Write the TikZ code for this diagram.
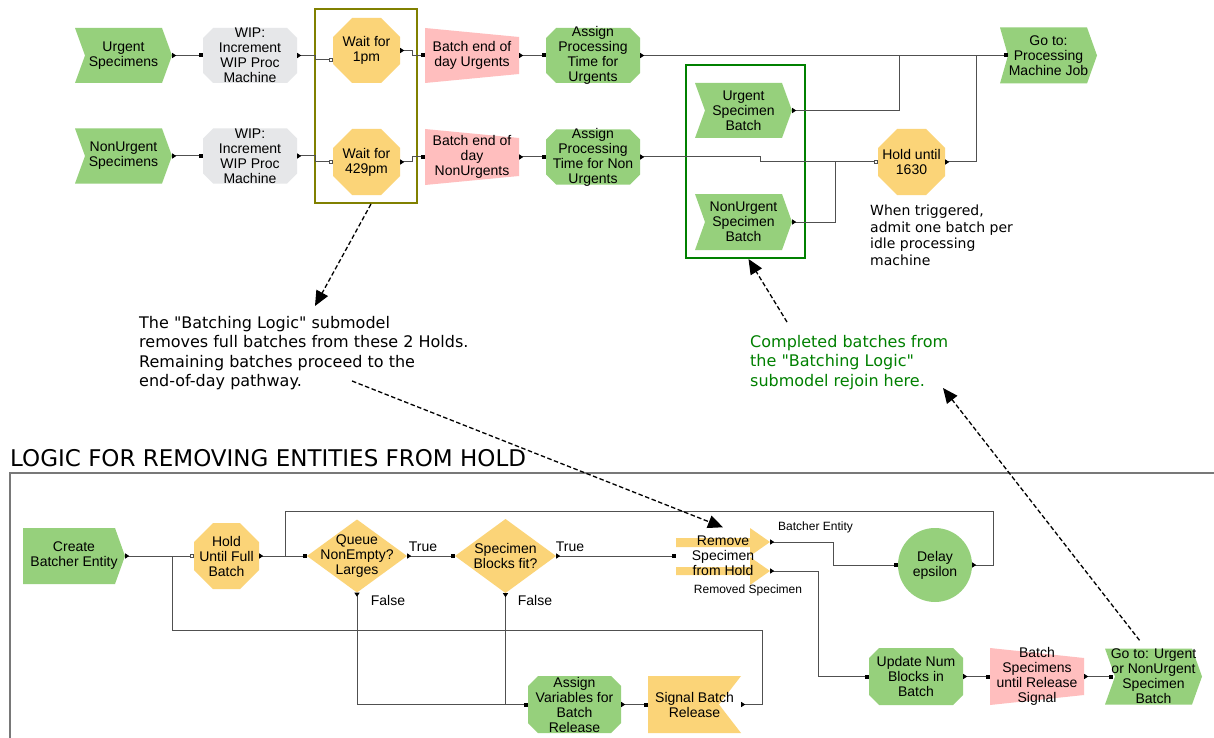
\documentclass[tikz,border=0pt]{standalone}
\usepackage{fontspec}
\setmainfont{Liberation Sans}
\newfontfamily\dv{DejaVu Sans}
\usetikzlibrary{arrows.meta,calc}

\definecolor{gfill}{RGB}{150,208,124}
\definecolor{wipc}{RGB}{230,231,233}
\definecolor{ofill}{RGB}{251,212,120}
\definecolor{pfill}{RGB}{255,190,190}
\definecolor{linec}{RGB}{80,80,80}
\definecolor{oliveb}{RGB}{128,128,0}
\definecolor{greenb}{RGB}{0,128,0}
\definecolor{framec}{RGB}{120,120,120}

\newcommand\nf{\fontsize{14}{15}\selectfont}
\newcommand\lf{\fontsize{12}{14}\selectfont}
\newcommand\af{\dv\fontsize{16}{19.5}\selectfont}

% shape + named node: x y w h notch colour name
\newcommand\chevnode[7]{%
  \fill[#6] ({#1-#3/2},{#2-#4/2}) -- ({#1+#3/2-10},{#2-#4/2}) -- ({#1+#3/2},{#2}) -- ({#1+#3/2-10},{#2+#4/2}) -- ({#1-#3/2},{#2+#4/2}) -- ({#1-#3/2+#5},{#2}) -- cycle;
  \node[shp, minimum width=#3pt, minimum height=#4pt] (#7) at (#1,#2)}
% x y w h chamfer colour name
\newcommand\octnode[7]{%
  \fill[#6] ({#1-#3/2+#5},{#2-#4/2}) -- ({#1+#3/2-#5},{#2-#4/2}) -- ({#1+#3/2},{#2-#4/2+#5}) -- ({#1+#3/2},{#2+#4/2-#5}) -- ({#1+#3/2-#5},{#2+#4/2}) -- ({#1-#3/2+#5},{#2+#4/2}) -- ({#1-#3/2},{#2+#4/2-#5}) -- ({#1-#3/2},{#2-#4/2+#5}) -- cycle;
  \node[shp, minimum width=#3pt, minimum height=#4pt] (#7) at (#1,#2)}
% x y w h inset colour name
\newcommand\trapnode[7]{%
  \fill[#6] ({#1-#3/2},{#2-#4/2}) -- ({#1+#3/2},{#2-#4/2+#5}) -- ({#1+#3/2},{#2+#4/2-#5}) -- ({#1-#3/2},{#2+#4/2}) -- cycle;
  \node[shp, minimum width=#3pt, minimum height=#4pt] (#7) at (#1,#2)}
% x y w h colour name
\newcommand\diamnode[6]{%
  \fill[#5] ({#1-#3/2},{#2}) -- ({#1},{#2-#4/2}) -- ({#1+#3/2},{#2}) -- ({#1},{#2+#4/2}) -- cycle;
  \node[shp, minimum width=#3pt, minimum height=#4pt] (#6) at (#1,#2)}

\begin{document}
\begin{tikzpicture}[x=1pt,y=-1pt,
 shp/.style={shape=rectangle, inner sep=0pt, align=center, font=\nf, text=black},
 pio/.style={draw=linec, line width=1pt, {Triangle[reversed,length=4pt,width=5pt,color=black]}-{Square[length=4pt,width=4pt,color=black]}},
 po/.style={draw=linec, line width=1pt, {Triangle[reversed,length=4pt,width=5pt,color=black]}-},
 ph/.style={draw=linec, line width=1pt, {Triangle[reversed,length=4pt,width=5pt,color=black]}-{Square[open,length=4pt,width=4pt,color=linec]}},
 ann/.style={draw=black, line width=1.3pt, dash pattern=on 4.5pt off 2.5pt, -{Triangle[length=15pt,width=13pt]}},
 lbl/.style={inner sep=0pt, font=\nf},
 note/.style={anchor=north west, align=left, inner sep=0pt}
]
\useasboundingbox (0,0) rectangle (1214,738);
\fill[white] (0,0) rectangle (1214,738);

% ---------- boxes ----------
\node[draw=oliveb, line width=2pt, inner sep=0pt, minimum width=102pt, minimum height=194pt] (obox) at (366,106) {};
\node[draw=greenb, line width=2pt, inner sep=0pt, minimum width=119pt, minimum height=193pt] (gbox) at (745.5,161.5) {};

% ---------- top row 1 ----------
\chevnode{123.5}{55.5}{97}{55}{10}{gfill}{u1} {Urgent\\Specimens};
\octnode{250}{55.5}{94}{55}{10}{wipc}{wip1} {WIP:\\Increment\\WIP Proc\\Machine};
\octnode{366.5}{50.5}{67}{65}{19}{ofill}{wt1} {Wait for\\1pm};
\trapnode{472}{55.5}{94}{55}{9}{pfill}{be1} {Batch end of\\day Urgents};
\octnode{593}{55.5}{94}{55}{10}{gfill}{as1} {Assign\\Processing\\Time for\\Urgents};
\chevnode{1048.5}{55.5}{97}{56}{8}{gfill}{go1} {Go to:\\Processing\\Machine Job};

% ---------- top row 2 ----------
\chevnode{123.5}{156}{97}{55}{10}{gfill}{u2} {NonUrgent\\Specimens};
\octnode{250}{156}{94}{55}{10}{wipc}{wip2} {WIP:\\Increment\\WIP Proc\\Machine};
\octnode{366.5}{162}{67}{66}{19}{ofill}{wt2} {Wait for\\429pm};
\trapnode{472}{157}{94}{56}{9}{pfill}{be2} {Batch end of\\day\\NonUrgents};
\octnode{593}{157}{94}{55}{10}{gfill}{as2} {Assign\\Processing\\Time for Non\\Urgents};

\chevnode{743.5}{110.5}{97}{55}{10}{gfill}{ub} {Urgent\\Specimen\\Batch};
\chevnode{743.5}{222}{97}{56}{10}{gfill}{nb} {NonUrgent\\Specimen\\Batch};
\octnode{911.5}{162}{67}{66}{19}{ofill}{hold} {Hold until\\1630};

\node[note, font={\dv\fontsize{14}{16.5}\selectfont}] (trig) at (870,205) {When triggered,\\admit one batch per\\idle processing\\machine};

% ---------- top connectors ----------
\coordinate (j3) at (899,55.5);
\coordinate (j4) at (976,55.5);
\coordinate (j5) at (835,162);
\draw[pio] (u1.east) -- (wip1.west);
\draw[ph] (wip1.east) -- ++(18,0) |- ([yshift=-9.5pt]wt1.west);
\draw[pio] (wt1.east) -- ++(12,0) |- (be1.west);
\draw[pio] (be1.east) -- (as1.west);
\draw[pio] (as1.east) -- ([xshift=8pt]go1.west);
\draw[pio] (u2.east) -- (wip2.west);
\draw[ph] (wip2.east) -- ++(18,0) |- (wt2.west);
\draw[pio] (wt2.east) -- ++(12,0) |- (be2.west);
\draw[pio] (be2.east) -- (as2.west);
\draw[ph] (as2.east) -- ++(120,0) |- (hold.west);
\draw[po] (ub.east) -| (j3);
\draw[po] (nb.east) -| (j5);
\draw[po] (hold.east) -| (j4);

% ---------- annotations ----------
\node[note, font=\af] (ann1) at (139,316) {The "Batching Logic" submodel\\removes full batches from these 2 Holds.\\Remaining batches proceed to the\\end-of-day pathway.};
\node[note, font=\af, text=greenb] (ann2) at (750,335) {Completed batches from\\the "Batching Logic"\\submodel rejoin here.};

\node[anchor=base west, inner sep=0pt, font={\dv\fontsize{23}{27}\selectfont}] (title) at (10,466) {LOGIC FOR REMOVING ENTITIES FROM HOLD};
\draw[framec, line width=1.5pt] (10,745) -- (10,473) -- (1220,473);

% ---------- bottom nodes ----------
\chevnode{74}{556}{102}{56}{0}{gfill}{cre} {Create\\Batcher Entity};
\octnode{226.5}{556}{65}{66}{19}{ofill}{hfb} {Hold\\Until Full\\Batch};
\diamnode{357}{556}{100}{73}{ofill}{q} {Queue\\NonEmpty?\\Larges};
\diamnode{505.5}{556}{101}{74}{ofill}{sb} {Specimen\\Blocks fit?};
\fill[ofill] (676,538) -- (750,538) -- (750,528) -- (770,542) -- (750,556) -- (750,547) -- (676,547) -- cycle;
\fill[ofill] (676,567) -- (750,567) -- (750,557) -- (770,571) -- (750,585) -- (750,575) -- (676,575) -- cycle;
\node[shp, minimum width=94pt, minimum height=57pt] (rem) at (723,556) {Remove\\Specimen\\from Hold};
\node[circle, fill=gfill, minimum size=74pt, inner sep=0pt, align=center, font=\nf] (del) at (935,565) {Delay\\epsilon};
\octnode{916}{676.5}{94}{57}{10}{gfill}{upd} {Update Num\\Blocks in\\Batch};
\trapnode{1037}{676.5}{94}{57}{10}{pfill}{bsr} {Batch\\Specimens\\until Release\\Signal};
\chevnode{1153.5}{676.5}{97}{56}{10}{gfill}{go2} {Go to: Urgent\\or NonUrgent\\Specimen\\Batch};
\octnode{574.5}{704.5}{93}{57}{10}{gfill}{av} {Assign\\Variables for\\Batch\\Release};
\fill[ofill] (648,676) -- (741,676) -- (719,704.5) -- (741,733) -- (648,733) -- cycle;
\node[shp, minimum width=93pt, minimum height=57pt] (sig) at (694.5,704.5) {Signal Batch\\Release};

\node[lbl] (t1) at (423,547) {True};
\node[lbl] (t2) at (570,547) {True};
\node[lbl] (f1) at (388,600) {False};
\node[lbl] (f2) at (535,600) {False};
\node[lbl, font=\lf, anchor=west] (lbe) at (778,527) {Batcher Entity};
\node[lbl, font=\lf] (lrs) at (748,590) {Removed Specimen};

% ---------- bottom connectors ----------
\coordinate (j1) at (285,556);
\coordinate (j2) at (172,556);
\coordinate (ro1) at ([yshift=14pt]rem.east);
\coordinate (ro2) at ([yshift=-15pt]rem.east);
\draw[ph] (cre.east) -- (hfb.west);
\draw[pio] (hfb.east) -- (q.west);
\draw[pio] (q.east) -- (sb.west);
\draw[pio] (sb.east) -- (rem.west);
\draw[pio] (q.south) |- (av.west);
\draw[po] (sb.south) -- (sb.south |- av.west);
\draw[pio] (ro1) -- ++(63,0) |- (del.west);
\draw[pio] (ro2) -- ++(48,0) |- (upd.west);
\draw[po] (del.east) -- ++(21,0) |- (285,511) -- (j1);
\draw[pio] (upd.east) -- (bsr.west);
\draw[pio] (bsr.east) -- ([xshift=8pt]go2.west);
\draw[pio] (av.east) -- (sig.west);
\draw[po] (sig.east) -- ++(21,0) |- (172,630) -- (j2);

% ---------- dashed pointers ----------
\coordinate (a1e) at (315,306);
\coordinate (a2s) at (352,381);
\coordinate (a3s) at (787,322);
\coordinate (a4e) at (943,388);
\draw[ann] ([xshift=5pt]obox.south) -- (a1e);
\draw[ann] (a2s) -- (rem.north);
\draw[ann] (a3s) -- ([xshift=3pt]gbox.south);
\draw[ann] ([xshift=-14pt,yshift=8pt]go2.north) -- (a4e);
\end{tikzpicture}
\end{document}
